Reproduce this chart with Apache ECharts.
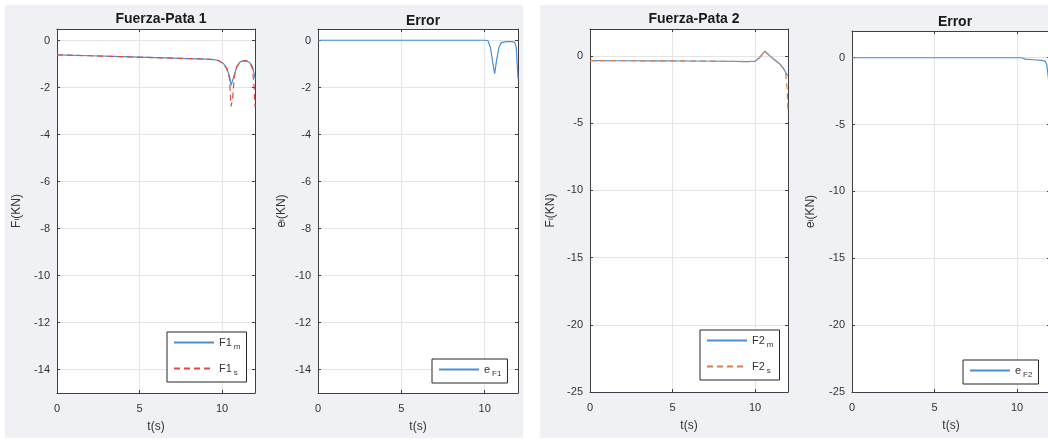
<!DOCTYPE html>
<html>
<head>
<meta charset="utf-8">
<script src="https://cdn.jsdelivr.net/npm/echarts@6/dist/echarts.min.js"></script>
<style>
  html, body { margin: 0; padding: 0; background: #ffffff; }
  #chart { width: 1048px; height: 441px; }
</style>
</head>
<body>
<div id="chart"></div>
<script>
// Leg 1 force: measured (m) and simulated (s), kN over time in s
const tF1 = [0, 2, 4, 6, 8, 9, 9.5, 9.8, 10.1, 10.3, 10.45, 10.55, 10.65, 10.75, 10.9, 11.1, 11.3, 11.5, 11.7, 11.85, 11.95, 12];
const f1m = [-0.60, -0.64, -0.68, -0.72, -0.76, -0.78, -0.80, -0.85, -0.98, -1.20, -1.50, -1.90, -1.85, -1.45, -1.10, -0.90, -0.85, -0.86, -0.95, -1.10, -1.40, -1.60];
const f1s = [-0.60, -0.64, -0.68, -0.72, -0.76, -0.78, -0.80, -0.85, -0.98, -1.20, -1.60, -2.80, -2.40, -1.50, -1.10, -0.90, -0.85, -0.86, -0.95, -1.20, -2.00, -2.80];

// Leg 1 error
const tE1 = [0, 2, 4, 6, 8, 10, 10.2, 10.35, 10.5, 10.6, 10.7, 10.85, 11.0, 11.3, 11.6, 11.8, 11.9, 11.95, 12];
const e1 = [0.02, 0.02, 0.02, 0.02, 0.02, 0.02, 0.0, -0.30, -1.00, -1.40, -0.90, -0.30, -0.08, -0.04, -0.04, -0.06, -0.30, -1.00, -1.60];

// Leg 2 force
const tF2 = [0, 2, 4, 6, 8, 9.5, 10.0, 10.3, 10.6, 10.9, 11.2, 11.5, 11.7, 11.85, 11.95, 12];
const f2m = [-0.35, -0.36, -0.37, -0.38, -0.40, -0.42, -0.40, -0.10, 0.35, 0.00, -0.30, -0.60, -0.90, -1.20, -1.40, -1.50];
const f2s = [-0.35, -0.36, -0.37, -0.38, -0.40, -0.42, -0.40, -0.10, 0.35, 0.00, -0.30, -0.60, -0.90, -1.20, -2.50, -4.30];

// Leg 2 error
const tE2 = [0, 2, 4, 6, 8, 10, 10.3, 10.5, 11.0, 11.5, 11.7, 11.8, 11.9, 12];
const e2 = [0, 0, 0, 0, 0, 0, 0, -0.10, -0.15, -0.20, -0.25, -0.50, -1.50, -3.00];

// tick labels
const xTicks = [0, 5, 10];
const yTicksA = [0, -2, -4, -6, -8, -10, -12, -14];
const yTicksB = [0, -5, -10, -15, -20, -25];

const titles = ['Fuerza-Pata 1', 'Error', 'Fuerza-Pata 2', 'Error'];
const legendText = {
  F1m: 'F1{sub|m}', F1s: 'F1{sub|s}', eF1: 'e{sub|F1}',
  F2m: 'F2{sub|m}', F2s: 'F2{sub|s}', eF2: 'e{sub|F2}'
};

const FONT = '"Liberation Sans", Arial, Helvetica, sans-serif';
const AXIS = '#404040';
const GRIDC = '#e4e4e4';
const TXT = '#333333';
const BLUE = '#4a8fcf';
const RED = '#e5483f';
const ORANGE = '#e07b50';

const zip = (t, v) => t.map((x, i) => [x, v[i]]);

const panels = [
  { left: 57,  top: 29, width: 198, height: 364, yMin: -15, yMax: 0.5, yTicks: yTicksA, yName: 'F{sub|i}(KN)', nameGap: 34, titleX: 156, titleTop: 7 },
  { left: 318, top: 29, width: 200, height: 364, yMin: -15, yMax: 0.5, yTicks: yTicksA, yName: 'e{sub|i}(KN)', nameGap: 30, titleX: 418, titleTop: 9 },
  { left: 590, top: 29, width: 198, height: 363, yMin: -25, yMax: 2,   yTicks: yTicksB, yName: 'F{sub|i}(KN)', nameGap: 33, titleX: 689, titleTop: 7 },
  { left: 852, top: 31, width: 198, height: 361, yMin: -25, yMax: 2,   yTicks: yTicksB, yName: 'e{sub|i}(KN)', nameGap: 35, titleX: 950, titleTop: 10 }
];

const grid = [], xAxis = [], yAxis = [], title = [];
const tickStyle = { color: AXIS, width: 1 };
const nameRich = { sub: { fontSize: 8, fontFamily: FONT, color: TXT } };

panels.forEach((p, i) => {
  grid.push({ left: p.left, top: p.top, width: p.width, height: p.height,
    show: true, backgroundColor: '#ffffff', borderWidth: 0, outerBoundsMode: 'none' });
  title.push({ text: titles[i], left: p.titleX, top: p.titleTop, textAlign: 'center',
    textStyle: { fontFamily: FONT, fontSize: 14, fontWeight: 'bold', color: '#1a1a1a' } });

  xAxis.push({
    gridIndex: i, type: 'value', min: 0, max: 12, interval: 5, position: 'bottom',
    name: 't(s)', nameLocation: 'middle', nameGap: 28,
    nameTextStyle: { fontFamily: FONT, fontSize: 12, color: TXT },
    axisLine: { show: true, onZero: false, lineStyle: tickStyle },
    axisTick: { show: true, inside: true, length: 3, customValues: xTicks, lineStyle: tickStyle },
    axisLabel: { customValues: xTicks, margin: 10, fontFamily: FONT, fontSize: 11, color: TXT },
    splitLine: { show: true, lineStyle: { color: GRIDC, width: 1 } }
  });
  xAxis.push({
    gridIndex: i, type: 'value', min: 0, max: 12, interval: 5, position: 'top',
    axisLine: { show: true, onZero: false, lineStyle: tickStyle },
    axisTick: { show: true, inside: true, length: 3, customValues: xTicks, lineStyle: tickStyle },
    axisLabel: { show: false }, splitLine: { show: false }
  });

  yAxis.push({
    gridIndex: i, type: 'value', min: p.yMin, max: p.yMax, position: 'left',
    name: p.yName, nameLocation: 'middle', nameGap: p.nameGap, nameRotate: 90,
    nameTextStyle: { fontFamily: FONT, fontSize: 12, color: TXT, rich: nameRich },
    axisLine: { show: true, onZero: false, lineStyle: tickStyle },
    axisTick: { show: true, inside: true, length: 3, customValues: p.yTicks, lineStyle: tickStyle },
    axisLabel: { customValues: p.yTicks, margin: 7, fontFamily: FONT, fontSize: 11, color: TXT },
    splitLine: { show: true, lineStyle: { color: GRIDC, width: 1 } }
  });
  yAxis.push({
    gridIndex: i, type: 'value', min: p.yMin, max: p.yMax, position: 'right',
    axisLine: { show: true, onZero: false, lineStyle: tickStyle },
    axisTick: { show: true, inside: true, length: 3, customValues: p.yTicks, lineStyle: tickStyle },
    axisLabel: { show: false }, splitLine: { show: false }
  });
});

function line(name, panel, t, v, color, dashed) {
  return {
    name, type: 'line', xAxisIndex: panel * 2, yAxisIndex: panel * 2,
    data: zip(t, v), symbol: 'none', showSymbol: false, silent: true, clip: true,
    lineStyle: { color, width: 1.2, type: dashed ? [6, 4] : 'solid' },
    itemStyle: { color }
  };
}

const series = [
  line('F1m', 0, tF1, f1m, BLUE, false),
  line('F1s', 0, tF1, f1s, RED, true),
  line('eF1', 1, tE1, e1, BLUE, false),
  line('F2m', 2, tF2, f2m, BLUE, false),
  line('F2s', 2, tF2, f2s, ORANGE, true),
  line('eF2', 3, tE2, e2, BLUE, false)
];

// legend boxes: line sample only, no marker
const legendBase = {
  orient: 'vertical', backgroundColor: '#ffffff', borderColor: '#262626', borderWidth: 1,
  borderRadius: 0, itemWidth: 40, itemHeight: 10, itemGap: 12, padding: [5, 6, 5, 6],
  selectedMode: false,
  itemStyle: { opacity: 0, borderWidth: 0 },
  formatter: n => legendText[n],
  textStyle: { fontFamily: FONT, fontSize: 11, color: TXT,
    rich: { sub: { fontSize: 8, fontFamily: FONT, color: TXT, padding: [9, 0, 0, 2] } } }
};

const legend = [
  Object.assign({}, legendBase, { data: ['F1m', 'F1s'], left: 167, top: 332 }),
  Object.assign({}, legendBase, { data: ['eF1'], left: 432, top: 359 }),
  Object.assign({}, legendBase, { data: ['F2m', 'F2s'], left: 700, top: 330 }),
  Object.assign({}, legendBase, { data: ['eF2'], left: 963, top: 360 })
];

const chart = echarts.init(document.getElementById('chart'), null, { renderer: 'canvas' });
chart.setOption({
  animation: false,
  backgroundColor: '#ffffff',
  graphic: [
    { type: 'rect', shape: { x: 5, y: 5, width: 518, height: 433 }, style: { fill: '#eff1f4' }, z: -10, silent: true },
    { type: 'rect', shape: { x: 540, y: 5, width: 508, height: 433 }, style: { fill: '#eff1f4' }, z: -10, silent: true }
  ],
  title, grid, xAxis, yAxis, legend, series
});
</script>
</body>
</html>
